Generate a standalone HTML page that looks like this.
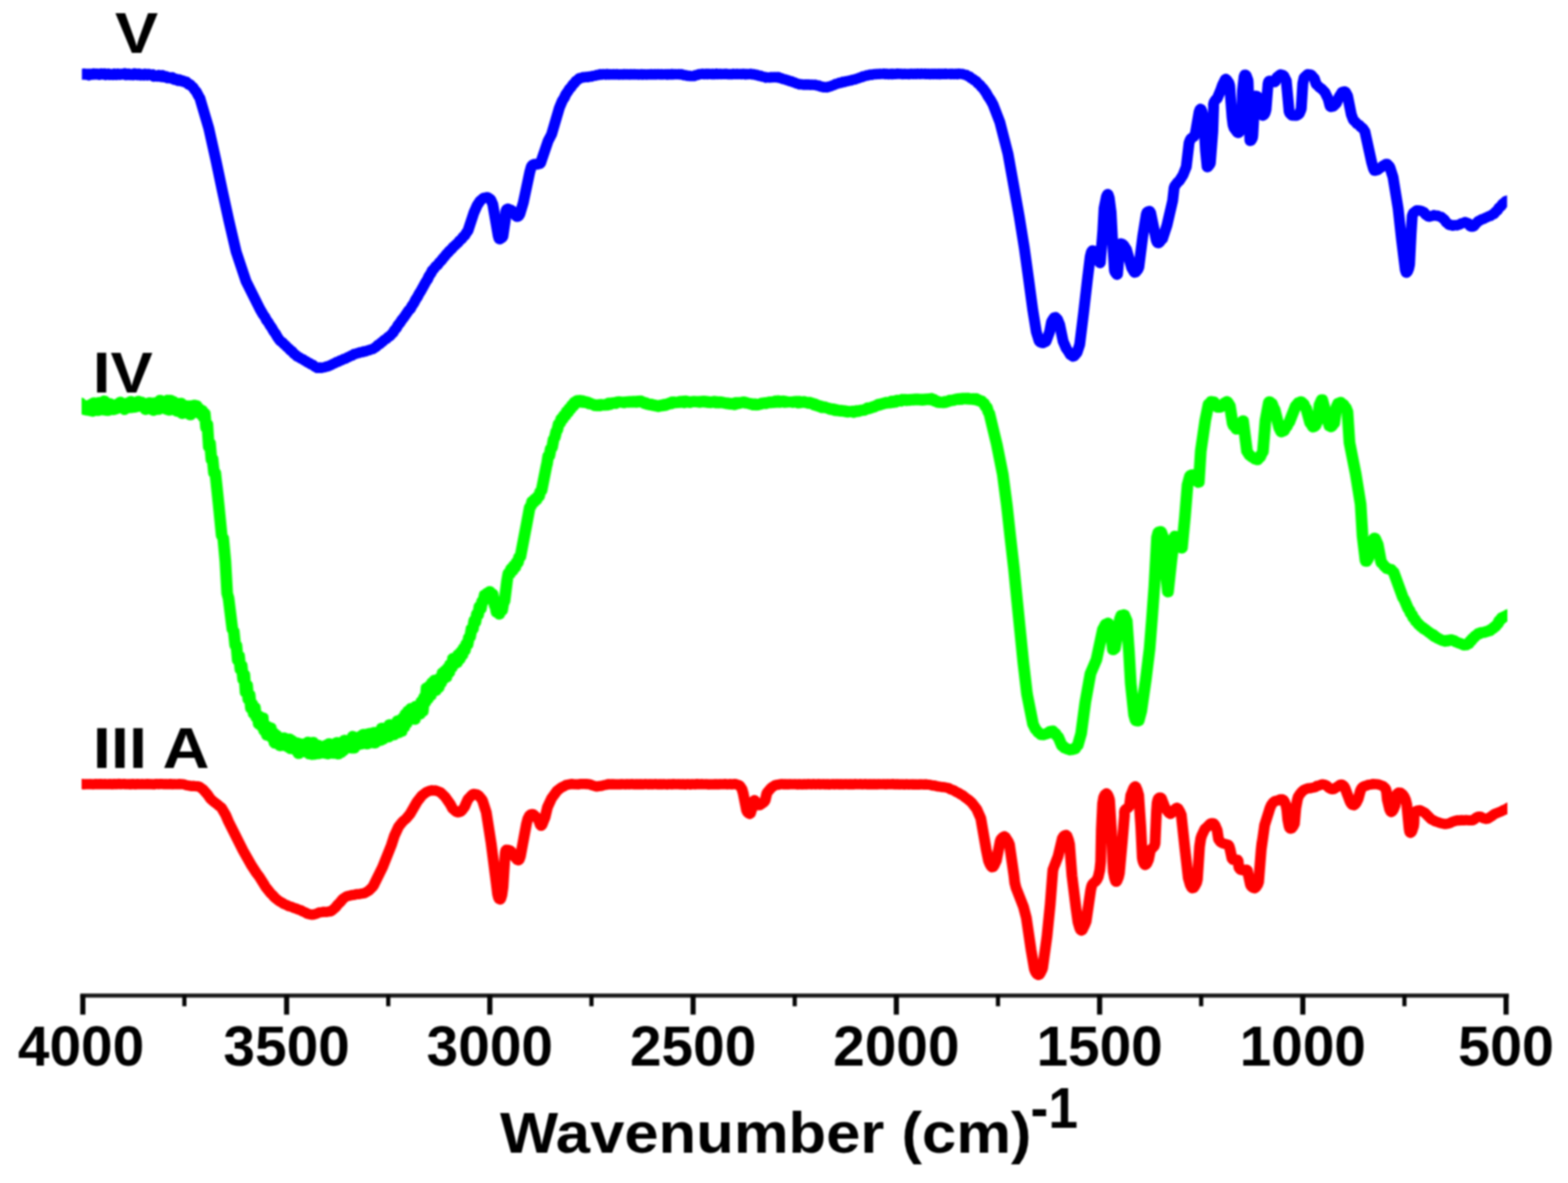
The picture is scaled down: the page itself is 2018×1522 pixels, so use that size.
<!DOCTYPE html>
<html lang="en">
<head>
<meta charset="utf-8">
<title>FTIR spectra</title>
<style>
html,body{margin:0;padding:0;background:#fff;}
body{width:2018px;height:1522px;overflow:hidden;}
svg{display:block;}
text{font-family:"Liberation Sans",sans-serif;font-weight:bold;fill:#000;}
.tk{font-size:71.8px;}
.lb{font-size:75px;}
.ax{font-size:74px;}
path{fill:none;stroke-linejoin:round;stroke-linecap:butt;}
</style>
</head>
<body>
<svg width="2018" height="1522" viewBox="0 0 2018 1522">
<defs>
<filter id="soft" color-interpolation-filters="sRGB" filterUnits="userSpaceOnUse" x="0" y="0" width="2018" height="1522"><feGaussianBlur stdDeviation="0.9"/></filter>
<filter id="soft2" color-interpolation-filters="sRGB" filterUnits="userSpaceOnUse" x="0" y="0" width="2018" height="1522"><feGaussianBlur stdDeviation="0.9"/></filter>
</defs>
<rect x="0" y="0" width="2018" height="1522" fill="#fff"/>
<g fill="#1a1a1a" filter="url(#soft2)">
<rect x="103.3" y="1278.2" width="1838.6" height="5.3"/>
<rect x="103.3" y="1280" width="6.6" height="25.4" fill="#050505"/>
<rect x="234.6" y="1280" width="5.4" height="14.6" fill="#050505"/>
<rect x="365.6" y="1280" width="6.6" height="25.4" fill="#050505"/>
<rect x="497.0" y="1280" width="5.4" height="14.6" fill="#050505"/>
<rect x="627.1" y="1280" width="6.6" height="25.4" fill="#050505"/>
<rect x="758.5" y="1280" width="5.4" height="14.6" fill="#050505"/>
<rect x="888.7" y="1280" width="6.6" height="25.4" fill="#050505"/>
<rect x="1020.1" y="1280" width="5.4" height="14.6" fill="#050505"/>
<rect x="1150.3" y="1280" width="6.6" height="25.4" fill="#050505"/>
<rect x="1281.7" y="1280" width="5.4" height="14.6" fill="#050505"/>
<rect x="1411.9" y="1280" width="6.6" height="25.4" fill="#050505"/>
<rect x="1543.2" y="1280" width="5.4" height="14.6" fill="#050505"/>
<rect x="1673.4" y="1280" width="6.6" height="25.4" fill="#050505"/>
<rect x="1804.8" y="1280" width="5.4" height="14.6" fill="#050505"/>
<rect x="1935.0" y="1280" width="6.6" height="25.4" fill="#050505"/>
</g>
<clipPath id="plot"><rect x="105.4" y="0" width="1834.2" height="1276"/></clipPath>
<g filter="url(#soft)"><g clip-path="url(#plot)">
<path transform="scale(1.06,1)" d="M88.4 95.3 L89 94.9 L90.5 96.0 L94.1 95.2 L95.6 96.9 L97.2 95.0 L98.9 96.2 L100.7 95.7 L102 94.6 L103.4 96.1 L106.3 95.0 L107.8 97.0 L109.4 95.0 L112.7 96.1 L114 94.6 L116.7 95.9 L118.1 94.9 L119.5 96.1 L121 96.4 L122.4 94.5 L123.9 95.9 L125.4 95.5 L126.9 94.7 L128.4 96.6 L129.8 95.5 L131.3 94.8 L132.7 96.5 L134.2 95.3 L135.6 95.3 L137.1 96.7 L138.6 94.7 L141.5 96.4 L143 94.7 L144.4 95.9 L145.8 96.3 L147.2 95.0 L148.6 95.7 L149.9 95.9 L151.5 94.1 L153.1 96.7 L156.2 94.9 L157.7 96.7 L159.2 95.4 L160.5 95.5 L161.8 96.9 L163.5 94.3 L166.6 96.5 L168.4 94.7 L169.5 96.3 L170.6 96.9 L171.8 95.4 L173.1 95.8 L174.5 97.1 L175.9 94.9 L177.4 95.7 L178.9 97.1 L180.4 95.2 L182 96.7 L183.5 96.5 L185.1 95.9 L186.7 98.6 L188.2 97.2 L189.7 97.5 L191.2 98.7 L192.6 96.4 L195.6 99.1 L197.1 96.6 L198.6 99.3 L200.1 99.2 L201.7 98.1 L203.2 100.6 L204.7 99.4 L206.2 99.4 L207.6 101.0 L209.1 99.4 L210.5 100.5 L211.9 102.7 L213.3 101.3 L214.6 102.1 L215.9 104.0 L217.4 102.2 L220.5 104.6 L221.9 103.5 L223.4 105.4 L224.7 106.0 L226.1 105.1 L228.6 108.4 L229.8 108.0 L231 108.9 L232.2 110.8 L234.4 112.3 L236.4 115.7 L238.2 117.7 L241.3 124.0 L242.6 126.0 L253.5 165.1 L262 205.3 L269.9 245.1 L278 284.4 L286.7 323.8 L298.6 361.6 L315.8 398.0 L319.8 405.3 L321.5 407.5 L323.8 412.3 L325.5 414.4 L328.1 419.1 L329.7 421.2 L332.3 426.3 L333.9 428.3 L337.1 434.1 L340 438.4 L341.2 439.4 L342.5 440.1 L344.9 443.0 L346.1 443.7 L348.5 446.6 L351 448.6 L352.2 450.3 L353.4 451.5 L354.6 452.0 L357 455.1 L359.3 456.8 L360.6 458.4 L362 459.2 L363.4 459.6 L364.9 461.1 L367.7 462.2 L369 463.4 L371.7 464.7 L373 466.0 L374.3 466.7 L375.7 467.0 L377 468.3 L378.3 469.1 L379.6 469.1 L382.4 471.9 L383.8 472.3 L385.4 473.4 L386.7 473.4 L388.2 472.7 L389.9 473.4 L391.6 472.8 L394.9 472.4 L396.4 471.5 L397.8 471.5 L399.4 470.8 L400.8 469.8 L402.2 469.6 L405 467.7 L406.3 467.4 L409.1 465.6 L410.6 465.4 L413.4 463.6 L414.8 463.5 L417.7 461.6 L419.1 461.6 L422 459.7 L423.3 459.4 L425.9 457.7 L427.4 457.6 L428.7 456.4 L430.1 455.4 L431.9 455.3 L434.2 454.1 L435.6 454.2 L437.1 453.3 L438.7 452.9 L440.3 453.0 L442 451.8 L443.7 452.1 L447 450.7 L448.6 450.6 L450 449.5 L452.6 449.2 L455.2 447.1 L456.4 446.5 L458.8 443.9 L461 442.7 L463.3 440.2 L464.4 439.7 L466.7 437.2 L469 436.1 L471.4 433.4 L472.8 432.8 L474.1 431.6 L475.3 430.0 L477.2 428.2 L479.2 424.4 L481.5 421.9 L483.2 418.4 L485.9 415.0 L487.7 411.9 L490.3 408.5 L496.2 399.4 L498.3 397.4 L500.1 393.7 L502.5 390.0 L504.7 385.4 L506.8 382.1 L509 377.5 L510.5 375.3 L517.4 362.0 L518.9 359.9 L520.9 355.1 L523.2 351.6 L524.9 347.9 L526.9 345.8 L529.2 342.5 L531.3 341.0 L533.5 337.6 L535.7 335.5 L537.9 332.2 L540.1 329.8 L542.2 326.8 L544.3 324.7 L545.3 323.2 L548.3 320.4 L550.4 317.6 L552.7 315.7 L553.9 314.2 L556.1 312.3 L558.2 309.3 L560.3 307.7 L562.3 304.7 L564.2 303.1 L566.8 298.7 L568.2 296.8 L575.3 273.9 L579.4 264.1 L583.3 257.9 L585.2 256.6 L586.3 255.4 L587.8 254.4 L589.6 254.4 L591.3 253.6 L592.8 254.3 L595 255.9 L595.9 257.0 L598.3 262.8 L604.9 303.4 L605.8 306.6 L606.3 307.5 L606.8 307.8 L609.4 306.0 L610.6 304.2 L613.6 282.3 L614 272.8 L614.7 270.2 L615.3 269.2 L616.6 268.4 L618.3 269.5 L620.1 269.8 L621.8 271.1 L624.8 274.7 L626.6 278.1 L627.5 278.8 L628.3 278.9 L629.8 277.9 L631.1 275.7 L635.3 261.0 L643.2 221.5 L645 214.7 L645.6 213.3 L647 211.8 L648.5 211.0 L650.3 210.8 L652.2 211.6 L654 211.0 L655.5 210.9 L656.3 209.9 L665.5 181.3 L669.8 172.6 L679.2 138.6 L682.8 129.5 L685 126.0 L687.2 121.0 L689.6 117.5 L691.4 114.4 L693.1 112.6 L695.7 108.6 L697.6 106.8 L699.6 103.9 L701.7 102.6 L702.9 101.1 L704.1 100.3 L705.3 100.5 L708 99.2 L709.4 99.5 L712.3 98.8 L713.8 99.4 L715.3 98.6 L716.7 98.3 L718.2 98.6 L719.8 97.6 L723 97.3 L724.6 96.5 L726.1 96.6 L727.6 95.9 L729 95.5 L730.3 96.0 L732 95.3 L733.5 95.5 L735 96.0 L736.9 95.2 L738 95.8 L739.3 96.0 L740.6 95.5 L743.5 95.9 L745 95.4 L746.6 95.9 L749.7 95.4 L751.4 96.0 L753 95.6 L755.9 96.0 L757.3 95.3 L760 95.9 L761.4 95.4 L764.3 96.0 L765.8 95.3 L767.2 95.8 L768.7 95.8 L770.1 95.4 L771.6 95.8 L774.5 95.6 L776 96.1 L778.9 95.5 L780.3 96.1 L781.8 95.7 L783.2 95.7 L784.7 96.0 L786.1 95.6 L789.1 95.8 L790.5 95.4 L792 95.9 L793.5 95.9 L794.9 95.3 L796.3 95.8 L797.7 95.8 L799.1 95.3 L800.5 95.8 L801.9 95.8 L803.2 95.5 L804.8 95.9 L808 95.5 L809.6 96.1 L811.2 95.4 L812.7 95.8 L814.3 95.8 L815.7 95.2 L817.1 95.8 L818.5 95.7 L819.7 95.3 L820.9 95.7 L822.8 95.7 L824.4 95.4 L825.9 95.9 L827.5 95.5 L829 96.0 L830.4 96.9 L831.9 96.6 L835 97.7 L836.5 97.3 L838.1 97.9 L842.9 97.8 L844.3 96.9 L847.2 96.4 L848.5 95.3 L851.5 95.4 L853.1 94.8 L854.8 95.6 L856.5 95.1 L857.9 95.0 L859.3 95.6 L860.8 95.0 L863.8 95.6 L865.3 94.9 L866.8 95.5 L868.2 95.5 L869.8 94.8 L871.3 95.6 L874.2 95.0 L875.6 95.5 L878.7 95.2 L880.4 95.4 L882 94.9 L883.6 95.5 L886.8 95.3 L888.5 95.7 L890.2 94.9 L891.6 95.3 L893.1 95.5 L894.6 95.0 L896.2 95.5 L899.2 95.1 L900.7 95.6 L902.3 95.0 L905.3 95.8 L906.8 95.1 L908.2 95.5 L909.9 95.4 L911.4 95.0 L913 95.8 L914.8 95.4 L916.1 95.8 L917.5 96.5 L918.9 96.2 L921.9 97.7 L923.5 97.5 L925.1 98.6 L928.3 98.9 L929.8 100.0 L931.3 99.5 L934.5 99.9 L936.1 99.2 L937.7 99.6 L940.8 99.1 L942.2 99.5 L943.5 99.1 L944.8 99.1 L946.5 100.4 L948.1 100.3 L951 101.9 L952.4 101.8 L955.1 103.1 L956.5 103.2 L959.2 104.6 L960.6 104.5 L963.3 105.9 L964.7 106.1 L967.6 107.7 L969.1 107.7 L970.9 108.7 L972.1 108.7 L973.3 108.3 L974.6 108.9 L976.1 109.1 L977.6 108.6 L979.1 109.1 L982.2 108.7 L983.8 109.3 L985.4 108.8 L988.3 109.4 L989.6 109.0 L992.7 110.2 L994.2 110.0 L995.6 111.2 L997 111.6 L998.4 111.4 L999.8 112.3 L1001.3 112.3 L1002.7 111.9 L1004.1 112.5 L1005.4 112.1 L1006.7 111.2 L1008 111.3 L1009.4 110.8 L1010.7 109.8 L1012.1 109.6 L1013.5 109.0 L1014.8 107.9 L1016.3 107.8 L1017.7 107.4 L1019.1 106.5 L1020.4 106.7 L1021.9 106.3 L1023.3 105.3 L1024.7 105.7 L1027.6 104.3 L1029.1 104.5 L1032 103.4 L1033.5 103.6 L1034.9 102.8 L1036.4 102.4 L1037.8 102.4 L1039.3 101.4 L1042.2 100.8 L1043.7 99.9 L1046.6 99.2 L1048 98.1 L1049.5 98.1 L1050.9 97.7 L1052.3 96.8 L1053.7 97.0 L1055.1 96.6 L1056.7 95.8 L1058.3 96.3 L1059.9 95.6 L1061.5 95.5 L1063 95.7 L1064.6 95.1 L1067.5 95.3 L1068.8 94.9 L1070 95.2 L1071.8 95.1 L1073.3 94.7 L1074.8 95.5 L1076.7 94.9 L1077.8 95.0 L1079.1 95.6 L1081.8 94.9 L1083.3 95.6 L1084.8 95.0 L1087.9 95.4 L1089.5 94.6 L1091.1 95.2 L1094.4 95.0 L1095.7 95.5 L1098.4 94.9 L1099.8 95.4 L1102.7 95.1 L1104.1 95.5 L1105.5 95.0 L1107 95.0 L1108.5 95.4 L1109.9 94.8 L1112.9 95.4 L1114.3 94.7 L1115.8 95.2 L1117.2 95.3 L1118.7 94.6 L1120.1 95.2 L1121.6 95.2 L1123 94.7 L1124.5 95.4 L1127.4 94.8 L1128.9 95.5 L1130.3 95.1 L1131.8 95.0 L1133.2 95.5 L1134.7 94.9 L1136.1 95.1 L1137.5 95.6 L1138.9 94.9 L1140.3 95.0 L1141.6 95.6 L1143 94.9 L1146.2 95.4 L1147.8 94.7 L1149.4 95.3 L1152.5 95.0 L1154.1 95.5 L1155.5 94.8 L1156.9 95.0 L1158.3 95.5 L1159.5 95.1 L1160.7 95.0 L1162.6 95.5 L1164.2 94.7 L1167.3 95.2 L1168.7 95.2 L1170.2 96.0 L1173.2 96.4 L1174.8 97.8 L1176.9 98.4 L1179.2 100.6 L1180.4 101.0 L1181.6 101.9 L1182.8 103.3 L1185.2 104.4 L1187.5 107.5 L1188.7 108.1 L1189.7 109.2 L1191.6 111.9 L1193.3 113.4 L1197.5 119.7 L1199.9 124.4 L1202.1 127.7 L1205.8 134.7 L1214 157.3 L1223.8 197.7 L1230.7 238.2 L1237.5 278.5 L1243.6 318.5 L1248.8 358.3 L1253.9 398.5 L1258.3 427.2 L1261.3 437.5 L1262 439.3 L1262.8 440.2 L1265 441.2 L1266.5 441.4 L1267.9 440.4 L1269.3 440.0 L1270 439.4 L1274.4 426.9 L1276.7 414.1 L1277.7 412.1 L1280.1 408.4 L1281.4 408.0 L1283.9 410.8 L1286.5 417.4 L1290.8 439.1 L1294.7 448.6 L1297.4 452.6 L1299.7 456.5 L1302.9 458.7 L1303.9 458.4 L1306.8 455.0 L1307.7 453.6 L1310.9 443.3 L1315.7 402.0 L1320.1 361.2 L1323.7 330.0 L1325 324.7 L1325.6 323.3 L1326.3 322.3 L1330.6 323.3 L1331.9 324.9 L1333.2 327.6 L1335.6 338.5 L1335.9 337.9 L1339 297.0 L1340.5 268.1 L1343.4 252.8 L1344.6 250.0 L1345 249.8 L1345.3 250.0 L1346.7 254.4 L1349 273.1 L1351 313.8 L1353.1 347.5 L1353.4 349.0 L1354.2 350.8 L1356.2 353.5 L1356.8 352.9 L1359.8 315.3 L1360.4 313.4 L1360.9 313.1 L1362.9 313.9 L1364.2 315.3 L1367.6 320.8 L1374.1 344.8 L1377 350.0 L1377.7 350.7 L1378.7 350.4 L1381.6 346.6 L1382.7 343.8 L1387.5 303.8 L1391.8 275.6 L1392.7 273.0 L1394.1 272.0 L1395.5 271.5 L1396 271.8 L1397.1 273.9 L1403.9 309.1 L1405 311.9 L1405.8 312.7 L1406.7 312.8 L1407.9 311.7 L1409.1 309.9 L1411.4 307.5 L1416.8 290.0 L1423.8 258.1 L1425.5 242.0 L1426.3 239.4 L1429.9 234.3 L1431.9 232.7 L1436.5 224.8 L1440.3 214.6 L1443.7 183.9 L1444.9 180.3 L1445.9 178.4 L1447.1 177.2 L1448.3 176.9 L1449.5 175.7 L1451.4 171.6 L1455.9 143.8 L1457.1 140.6 L1457.6 140.1 L1458.1 140.3 L1459.2 142.7 L1461.3 152.4 L1463.7 194.0 L1465.6 214.4 L1466 215.1 L1466.7 214.5 L1468.6 211.8 L1469.5 210.1 L1472.5 169.2 L1473.5 137.9 L1473.4 134.4 L1474.2 131.2 L1475.9 128.4 L1477.8 126.8 L1481.9 116.5 L1484.2 109.6 L1487.7 102.0 L1488.4 101.6 L1489.3 102.4 L1492 106.6 L1493 110.1 L1495.9 150.9 L1497.1 160.8 L1498.2 164.4 L1499.1 166.0 L1502.1 170.2 L1503.1 171.0 L1503.8 171.0 L1505 169.5 L1506.8 163.0 L1507.5 157.6 L1508.6 116.2 L1510.5 98.6 L1511.2 96.6 L1511.5 96.1 L1512.2 96.2 L1513 97.0 L1515.1 102.9 L1515.4 106.2 L1516.6 147.5 L1517.6 180.4 L1517.9 181.3 L1518.7 181.0 L1519.8 179.2 L1520.7 177.0 L1521.1 173.6 L1523.3 131.7 L1524.1 125.0 L1524.9 123.3 L1526.2 123.5 L1529.1 126.5 L1529.9 128.6 L1532.6 147.9 L1532.9 148.5 L1533.3 148.7 L1534.2 148.2 L1535.2 147.0 L1536.1 145.1 L1537.1 141.2 L1539.6 107.9 L1540.3 105.1 L1541 104.1 L1542.3 103.9 L1544 105.3 L1547.3 105.7 L1548.3 105.0 L1550.6 99.1 L1554.8 95.7 L1557.5 96.6 L1558.6 97.3 L1561.7 103.8 L1565.2 143.4 L1565.9 145.6 L1568.4 148.5 L1573.9 148.8 L1576.5 147.4 L1577.5 146.3 L1579.6 141.0 L1579.9 139.5 L1581.8 107.3 L1583.2 100.5 L1583.8 99.3 L1587.9 95.5 L1590.8 95.9 L1592.3 96.6 L1593.8 98.7 L1595.7 100.8 L1597.7 107.3 L1598.5 108.8 L1600.5 110.7 L1601.7 112.2 L1602.9 113.2 L1604.2 113.9 L1608.5 118.5 L1612.7 127.5 L1614.7 135.8 L1615.3 137.1 L1616 137.6 L1618.7 137.0 L1622.5 132.9 L1625.9 124.6 L1629.3 118.7 L1630.4 118.0 L1632.6 117.7 L1633.7 118.5 L1636.1 123.2 L1640.7 147.6 L1642.7 153.1 L1643.5 154.9 L1644.5 155.9 L1645.6 156.6 L1647.9 159.7 L1650.1 160.6 L1652.3 163.8 L1653.6 164.2 L1654.7 165.2 L1657.2 169.3 L1665.5 209.3 L1667.6 217.1 L1668.7 219.5 L1669.4 219.7 L1673 218.6 L1674.4 216.9 L1675.7 216.0 L1677 215.6 L1678.5 213.8 L1679.9 212.7 L1681.4 212.0 L1682.7 210.8 L1684 210.9 L1686.7 213.8 L1687.5 215.2 L1691.3 227.7 L1697.5 268.0 L1701.8 309.3 L1706.2 347.0 L1707.3 350.6 L1707.7 350.9 L1708.9 349.4 L1710.2 346.1 L1711.4 340.4 L1713.3 300.2 L1714.6 278.4 L1715.4 275.6 L1716.3 273.7 L1720.3 270.6 L1723.7 270.8 L1725.5 271.3 L1727.2 272.3 L1728.4 272.6 L1729.6 273.9 L1730.7 275.7 L1731.8 276.8 L1733 277.4 L1734.2 278.5 L1735.5 278.8 L1736.9 278.1 L1739.7 277.6 L1741.2 276.7 L1743.9 277.6 L1745.4 277.3 L1746.8 278.3 L1748.2 278.8 L1749.6 278.8 L1752.1 281.4 L1753.1 282.0 L1754.1 283.1 L1756.1 286.4 L1758.2 287.9 L1759.3 289.2 L1760.8 289.7 L1762.4 289.5 L1764 290.4 L1765.7 289.7 L1769.1 290.0 L1770.5 289.1 L1771.9 289.0 L1774.8 287.1 L1776.3 287.1 L1779 285.7 L1782.7 287.4 L1785 291.0 L1786.1 291.5 L1788.3 291.6 L1789.5 290.9 L1791.7 287.8 L1792.9 286.8 L1795.4 284.1 L1796.8 283.7 L1799.6 281.9 L1801.1 281.8 L1803.9 279.9 L1805.3 279.6 L1808.2 277.9 L1809.6 277.9 L1812.4 275.6 L1813.7 275.4 L1816 272.4 L1818.1 270.6 L1820.1 267.2 L1822.1 265.6 L1824.5 262.2 L1826.7 260.6 L1827.6 259.3 L1828.7 258.4 L1829.7 258.6 L1831.2 258.2 L1833.1 257.2 L1834.7 257.2 L1835.4 256.8" stroke="#0000ff" stroke-width="13.3"/>
<path transform="scale(1.1,1)" d="M90.7 520.1 L90.9 518.4 L91.4 518.4 L92.3 525.3 L93.2 525.9 L94.2 518.4 L95.3 523.8 L96.2 525.3 L96.9 521.3 L97.7 521.1 L98.4 526.2 L99.2 527.4 L100 522.5 L100.8 522.2 L101.7 527.9 L102.5 526.5 L103.2 521.6 L103.9 521.6 L104.6 526.6 L105.3 528.6 L106 523.3 L106.8 519.9 L107.5 525.6 L108.3 529.3 L109.1 522.4 L109.9 518.0 L110.7 523.9 L111.5 526.4 L112.4 520.7 L113 519.2 L114.4 528.5 L115.9 517.6 L117.4 526.5 L118.9 519.5 L120.5 527.6 L122 515.7 L123.6 528.1 L125.1 520.1 L126.5 528.3 L127.2 525.0 L127.9 519.2 L128.6 519.0 L129.4 526.5 L130.3 526.7 L131.1 520.9 L131.9 522.2 L132.7 527.3 L133.4 525.8 L134.2 521.2 L134.9 522.2 L135.6 526.4 L136.4 526.1 L137.1 521.4 L137.8 519.4 L138.4 522.9 L139.3 524.7 L140.1 518.8 L140.9 517.1 L141.7 522.4 L142.5 523.9 L143.2 519.6 L144 519.2 L144.8 525.6 L145.6 527.1 L146.4 521.6 L147.1 519.7 L147.9 523.5 L148.6 524.0 L149.4 518.2 L150.3 517.8 L151.2 524.8 L151.8 524.6 L153.1 516.3 L154.5 524.6 L155.9 518.4 L156.6 520.2 L157.4 524.2 L158.1 522.6 L158.9 517.7 L159.7 518.6 L160.4 523.4 L161.2 521.7 L162 516.0 L162.8 518.0 L163.5 522.7 L164.2 522.5 L164.9 518.0 L165.6 517.0 L166.4 521.6 L167.1 523.7 L167.9 520.2 L168.7 519.4 L169.5 525.0 L170.3 527.1 L171 521.6 L171.8 519.5 L172.6 523.3 L173.4 523.4 L174.2 518.1 L175 517.8 L175.8 523.5 L176.5 524.8 L177.3 520.9 L178 520.7 L178.8 526.0 L179.5 528.3 L180.8 518.0 L182.4 524.2 L183.2 520.2 L184 517.6 L185.6 526.9 L187.1 514.9 L188.5 524.7 L189.9 517.7 L190.6 519.1 L191.2 522.4 L191.9 523.2 L192.5 519.7 L193.4 517.5 L194.2 523.8 L194.9 526.9 L196.3 514.7 L197.9 528.0 L199.4 514.7 L200.6 526.4 L201.3 526.1 L201.9 519.9 L202.6 516.2 L204 527.7 L205.5 518.5 L207 529.3 L208.6 518.9 L210.2 527.2 L211.7 518.6 L213.3 532.3 L214.8 521.5 L216.2 530.3 L216.9 527.7 L217.7 521.8 L218.5 524.5 L219.3 530.5 L220.1 527.3 L220.9 522.1 L222.6 534.0 L224.2 521.9 L225 527.6 L225.8 531.5 L227.3 521.0 L228.7 529.4 L230.1 521.7 L230.7 523.4 L232 530.8 L233.2 525.7 L233.8 527.4 L234.9 533.3 L236.4 527.9 L237.7 536.0 L238.1 537.3 L239.4 531.5 L239.6 531.8 L241.1 550.5 L242.6 545.7 L244.3 575.4 L245.7 569.8 L247.4 591.7 L248.7 590.1 L250.4 608.9 L251.5 607.6 L251.9 608.2 L255.8 649.1 L259.4 689.1 L261.2 692.5 L263.7 722.4 L265.8 763.4 L267.4 769.7 L271.9 809.7 L273.5 812.1 L275.2 830.4 L276.6 830.1 L278.2 849.7 L279.7 843.6 L281.3 861.6 L282.8 856.2 L284.5 874.5 L285.9 867.9 L287.4 891.2 L288.9 881.3 L289.1 881.4 L290.5 900.1 L292.1 893.8 L293.6 911.5 L295.1 905.3 L296.8 918.4 L298.2 910.1 L299.6 922.1 L300 923.4 L301.1 919.5 L301.5 919.6 L302.7 931.6 L303.1 931.9 L304.4 922.1 L305.8 934.2 L306.2 934.8 L307.6 923.3 L309 940.2 L309.5 938.9 L310.4 932.4 L310.9 933.9 L311.9 944.5 L312.4 946.1 L313.3 937.7 L313.8 935.1 L315.3 945.3 L316.8 936.2 L318.4 949.9 L320 942.6 L321 953.7 L321.6 956.4 L322.7 945.3 L323.3 945.3 L324.5 954.8 L325.7 948.6 L326.3 948.6 L327.6 959.7 L328.9 950.2 L329.6 951.2 L330.2 956.5 L330.9 958.9 L332.3 949.1 L333.7 959.7 L334.4 957.9 L335.1 954.0 L335.8 955.4 L336.5 960.7 L337.2 961.6 L337.9 954.8 L338.6 950.5 L340 963.3 L341.4 952.5 L342.1 956.3 L342.8 962.5 L343.5 961.9 L344.2 956.6 L344.9 956.0 L345.6 962.2 L346.4 965.6 L347.8 955.5 L349.3 969.7 L350.7 956.6 L351.4 959.9 L352.2 964.9 L352.9 963.2 L353.6 959.2 L354.4 960.3 L355.1 964.3 L355.8 963.1 L356.6 957.0 L357.3 956.4 L358 964.4 L358.7 968.1 L359.5 959.7 L360.2 954.6 L361.7 970.2 L363.2 959.7 L364.7 970.9 L366.2 954.9 L367.7 970.7 L369.2 957.7 L370 961.8 L370.7 968.0 L371.5 964.6 L372.2 958.6 L373 962.4 L373.8 969.8 L374.5 967.8 L375.3 960.9 L376 961.9 L376.8 967.9 L377.5 966.9 L378.3 960.2 L379 960.8 L379.8 968.9 L380.5 969.4 L381.3 960.2 L382 958.3 L382.8 967.4 L383.5 970.1 L384.3 960.9 L385 956.5 L385.8 963.7 L386.5 967.8 L387.3 962.5 L388.1 959.4 L389.6 969.4 L391.1 958.2 L392.5 969.4 L394 955.1 L395.5 970.3 L396.2 965.9 L396.9 957.9 L397.6 958.5 L398.3 965.7 L399 968.4 L400.4 957.1 L401.7 965.7 L403.1 952.0 L403.8 953.4 L404.5 959.7 L405.2 961.4 L406.6 952.5 L407.9 961.3 L409.3 953.9 L410 956.7 L410.7 962.7 L411.4 961.7 L412.1 952.5 L412.8 947.2 L414.2 962.7 L415.7 950.6 L417.1 958.7 L417.8 955.6 L418.6 950.3 L419.3 952.1 L420 958.1 L420.7 957.4 L421.4 949.5 L422.2 946.6 L422.9 953.3 L423.6 957.3 L425 944.6 L426.5 955.1 L427.9 944.5 L428.7 949.3 L429.4 957.3 L430.1 954.5 L430.8 945.4 L431.5 943.6 L432.3 949.5 L433 951.4 L433.7 945.7 L434.4 943.0 L435.9 955.9 L437.4 942.2 L438.8 956.1 L440.3 941.8 L441 945.0 L441.7 952.0 L442.4 950.2 L443.2 943.0 L443.9 942.8 L444.6 950.5 L445.3 952.8 L446.7 936.5 L448.1 951.2 L449.5 940.3 L450.2 942.2 L450.9 947.2 L451.6 946.8 L452.3 941.7 L453 939.8 L454.4 948.5 L455.8 932.1 L457.2 942.7 L457.9 941.7 L458.5 936.0 L459.2 934.1 L460.6 945.7 L461.9 933.3 L462.5 935.2 L463.2 941.1 L463.8 943.4 L465.1 927.1 L465.6 930.4 L466.7 943.0 L468.3 926.2 L469.9 941.1 L471.4 923.2 L472.9 935.8 L474.3 918.4 L474.8 920.8 L475.8 930.9 L476.3 928.1 L477.4 914.5 L477.9 914.9 L478.9 924.2 L479.5 922.0 L480.7 911.4 L482 922.9 L482.7 919.6 L483.3 912.7 L484 911.8 L485.4 925.7 L486.7 908.3 L487.4 911.3 L488.1 916.2 L488.7 915.6 L490 907.4 L491.2 919.1 L491.8 916.8 L492.9 902.4 L493.4 905.4 L494.3 915.0 L494.7 915.5 L496 897.7 L496.2 896.9 L497.6 903.6 L499.1 884.8 L499.4 885.6 L500.7 899.4 L502 884.2 L502.4 882.2 L503.4 893.1 L504 894.9 L505.1 879.3 L505.6 877.7 L506.8 887.8 L508 877.6 L508.6 874.9 L509.8 888.7 L510.4 886.5 L511.6 875.8 L512.8 885.2 L513.4 884.5 L514.5 871.9 L515 872.4 L516 878.8 L516.4 877.7 L517.8 865.3 L519.1 873.7 L519.5 873.3 L520.7 862.5 L521.1 863.7 L522.3 871.3 L524 859.0 L525.2 865.2 L525.6 865.4 L526.8 854.3 L527.3 854.0 L528.6 859.3 L530.1 846.8 L531.6 854.6 L533.1 848.2 L534.6 852.8 L536.1 842.0 L536.6 843.1 L537.6 848.6 L538.1 847.7 L539.5 838.2 L540.7 843.5 L541.1 842.6 L542.2 834.7 L542.6 833.5 L543.9 837.0 L545.5 828.1 L547 829.5 L548.6 820.1 L550 819.6 L551.7 808.7 L553.1 809.6 L553.3 809.3 L554.9 798.1 L556.2 800.7 L558 789.5 L559.4 791.4 L560.9 780.4 L561.2 779.8 L562.6 783.5 L564.2 773.4 L565.5 773.4 L567.1 765.3 L567.4 765.3 L568.7 768.4 L570 762.8 L570.8 763.0 L571.6 764.7 L572.4 763.3 L573.1 760.8 L573.8 762.4 L575 767.3 L576.3 763.9 L578.8 779.1 L579.6 779.7 L581 787.8 L581.5 787.3 L582.6 784.1 L584.1 790.4 L585.6 784.2 L586 784.0 L587 785.9 L587.4 785.6 L588.8 776.7 L590.3 773.3 L593.3 746.8 L594.8 737.7 L595.2 736.8 L596.4 739.0 L597.8 732.3 L598.3 731.3 L599.3 734.1 L599.8 734.5 L601.2 727.5 L602.8 730.4 L604 724.3 L604.4 723.1 L605.6 724.5 L606 723.7 L607.4 716.3 L608.8 716.7 L615.8 676.4 L619.9 652.2 L621.3 651.4 L622.6 645.2 L623 644.5 L624 646.4 L624.6 646.3 L625.6 642.1 L626.1 641.5 L627.2 643.7 L627.7 643.3 L629.1 638.4 L630.3 639.2 L630.6 638.9 L632.1 632.4 L633.6 631.2 L639.5 598.6 L639.9 597.5 L641.4 586.6 L642.8 586.3 L644.4 576.9 L645.9 576.0 L647.7 565.1 L649.1 562.9 L650.8 555.0 L652 553.3 L653.6 545.4 L653.9 544.8 L655.1 544.8 L655.4 544.3 L656.7 538.8 L657 538.3 L658.3 539.5 L659.7 534.6 L660.1 533.9 L661.1 535.0 L661.6 534.9 L663.1 529.2 L664.6 530.9 L666 525.4 L667.5 526.7 L668.9 521.8 L669.4 520.9 L670.3 522.4 L670.8 522.8 L672.3 517.1 L673.9 519.1 L675 515.3 L675.7 515.1 L676.4 516.9 L677.2 517.5 L677.9 515.6 L678.6 514.8 L679.4 516.8 L680.2 517.8 L681 516.0 L681.8 515.3 L682.6 517.4 L683.4 518.1 L684.2 516.4 L685 516.4 L685.8 518.0 L686.5 518.3 L687.2 517.4 L687.9 517.1 L689.2 519.9 L690.6 518.4 L691.3 519.0 L692 520.2 L692.7 520.4 L693.5 519.9 L694.2 520.0 L694.9 521.4 L695.7 522.1 L697.2 520.5 L697.9 521.6 L698.7 522.3 L699.5 521.1 L700.3 520.4 L701.6 522.3 L703 520.2 L703.8 520.7 L704.5 521.7 L705.3 521.5 L706 520.7 L706.8 520.9 L707.6 521.6 L708.4 520.9 L709.2 519.8 L710 520.4 L710.8 521.5 L712.4 518.4 L713.9 520.6 L715.5 518.1 L716.9 519.5 L717.6 518.9 L718.3 517.9 L719 517.8 L720.2 519.3 L721.4 517.3 L721.9 516.9 L722.9 517.9 L723.7 517.8 L724.5 516.6 L725.3 516.8 L726 517.7 L726.7 517.8 L727.5 517.0 L728.2 517.1 L729 518.2 L729.8 518.4 L730.6 517.2 L731.4 517.0 L732.2 517.7 L733 517.5 L733.8 516.7 L734.6 516.9 L735.4 517.7 L736.2 517.3 L737 516.3 L737.8 516.8 L738.6 517.7 L740.2 516.2 L741.8 517.7 L743.3 516.1 L744.8 517.8 L746.3 515.8 L748 517.5 L749.5 515.5 L750.7 517.1 L751.3 517.6 L752.7 517.0 L754.1 519.5 L755.6 517.8 L757.1 520.4 L757.9 520.0 L758.7 519.3 L760.2 521.2 L760.9 520.7 L761.7 519.7 L762.4 520.3 L763.1 521.6 L763.8 521.8 L765.1 520.5 L766 522.0 L766.8 522.7 L767.6 521.7 L768.3 521.4 L769.1 522.8 L769.9 523.3 L770.6 522.0 L771.4 521.3 L772.9 522.8 L774.4 520.8 L775.9 522.3 L777.3 520.0 L778.8 521.9 L780.2 519.6 L781 519.8 L781.7 520.6 L782.5 519.9 L783.2 518.4 L783.9 518.3 L784.6 519.5 L785.3 519.7 L786.7 516.8 L788 518.5 L788.6 518.2 L789.4 516.9 L790.3 517.2 L791.1 518.3 L791.8 517.9 L792.6 517.1 L793.3 517.3 L794.1 517.9 L794.9 517.3 L795.7 516.1 L796.5 516.6 L797.3 517.8 L798.1 517.1 L798.9 515.9 L800.5 518.4 L802.1 515.7 L803.7 517.7 L805.3 516.3 L806.9 518.2 L808.5 516.5 L809.2 517.1 L810 517.3 L810.8 516.4 L811.6 516.2 L812.4 517.0 L813.2 517.2 L814 516.4 L814.8 516.4 L815.6 517.4 L816.4 517.5 L817.2 516.5 L818 516.7 L818.7 517.8 L819.5 517.6 L820.3 516.2 L821.1 516.2 L821.9 517.2 L822.7 516.8 L823.5 515.8 L824.3 516.4 L825.1 517.6 L825.9 517.1 L826.7 516.2 L828.3 518.2 L829.9 516.5 L831.5 518.3 L833.1 516.8 L834.7 517.9 L835.5 516.8 L836.3 516.2 L837.1 517.8 L837.8 518.6 L839.3 516.6 L840.9 518.6 L841.7 517.1 L842.6 516.7 L843.9 518.4 L845.3 517.0 L846.8 518.8 L848.3 518.0 L849.9 519.5 L851.5 518.4 L853.2 519.9 L854.8 518.9 L856.3 520.4 L857.8 518.5 L859.3 520.9 L860.8 517.7 L862.3 520.0 L863.7 517.7 L864.5 518.2 L865.2 519.2 L865.9 518.9 L866.7 517.7 L867.4 517.4 L868.1 518.0 L868.9 517.9 L869.6 516.8 L870.4 516.8 L871.1 518.1 L871.9 518.8 L872.6 518.0 L873.4 517.7 L874.2 518.7 L875 519.3 L875.7 518.6 L876.5 518.5 L877.3 519.6 L878 520.2 L878.8 519.5 L879.5 519.1 L881 521.2 L882.3 519.4 L883.5 521.2 L884.4 521.3 L885.3 519.8 L886.1 520.1 L886.8 521.0 L887.6 520.6 L888.3 519.5 L889.1 519.5 L889.8 520.5 L890.6 520.0 L891.4 518.4 L892.2 518.4 L893 519.5 L893.8 519.1 L894.6 517.9 L895.4 518.4 L896.2 519.6 L896.9 518.9 L897.7 517.5 L898.5 517.8 L899.3 518.6 L900.9 516.9 L902.5 518.3 L904 516.7 L905.6 518.2 L907.2 515.6 L908.8 517.8 L910.3 515.4 L911.8 518.0 L913.4 515.8 L914.2 516.7 L915.1 517.2 L916.4 515.6 L917.8 518.0 L918.5 517.4 L919.2 516.1 L920 516.3 L920.7 517.6 L921.5 517.7 L922.3 516.9 L923 516.8 L923.8 517.5 L924.6 517.5 L925.3 516.8 L926.1 516.9 L926.8 517.8 L927.5 518.0 L928.3 516.9 L929 516.3 L929.8 517.3 L930.5 517.7 L931.3 516.6 L932.1 516.1 L933.6 518.7 L935.1 516.0 L936.5 518.4 L937.8 516.9 L938.4 517.0 L939.3 517.9 L940.1 517.6 L940.8 516.5 L941.6 516.7 L942.3 517.9 L943 518.3 L943.9 517.2 L944.8 517.6 L945.9 519.2 L947.2 517.4 L947.8 517.9 L948.5 519.0 L949.1 519.5 L950.6 518.5 L952 521.1 L953.5 519.4 L955.1 522.2 L956.6 520.9 L958.2 523.4 L959.7 521.8 L961.3 524.6 L962.8 522.8 L964.2 524.7 L965.6 523.6 L966.4 524.1 L967.1 525.3 L967.8 525.4 L968.6 524.6 L969.3 524.8 L970.1 526.3 L970.8 526.8 L971.6 525.9 L972.3 525.7 L973.1 526.9 L973.9 527.4 L974.6 526.3 L975.4 525.8 L976.8 528.3 L978.3 526.5 L979.7 528.7 L981.1 527.4 L981.8 527.8 L982.5 528.8 L983.2 529.1 L984.4 527.7 L986.1 529.5 L987.6 528.0 L989.1 530.0 L990.5 528.5 L991.9 530.3 L992.6 530.1 L993.3 529.2 L994.1 529.1 L994.8 529.8 L995.5 530.0 L996.3 529.1 L997.1 528.8 L998.5 530.8 L999.9 528.6 L1001.3 530.2 L1002.8 528.0 L1003.5 528.5 L1004.3 529.7 L1005 529.2 L1005.8 527.7 L1006.5 527.6 L1007.3 528.5 L1008 528.4 L1008.8 527.4 L1009.5 527.3 L1010.3 528.2 L1011 528.2 L1011.8 526.9 L1012.5 526.2 L1013.3 526.7 L1014 526.8 L1015.4 524.5 L1016.8 526.1 L1018.3 524.1 L1019.8 524.9 L1021.3 523.0 L1022.1 523.2 L1022.8 523.9 L1023.6 523.3 L1024.3 521.9 L1025 521.6 L1025.7 522.2 L1026.4 522.2 L1027.8 519.9 L1029 521.4 L1029.6 521.2 L1030.8 519.3 L1032.2 520.4 L1033.9 518.4 L1035.3 519.4 L1036.8 517.6 L1037.6 518.0 L1038.4 518.9 L1039.1 518.4 L1039.9 517.5 L1041.5 518.7 L1043.1 515.9 L1044.7 518.2 L1046.3 515.7 L1047.9 517.7 L1049.5 514.7 L1051 516.3 L1051.8 515.4 L1052.6 514.8 L1053.4 515.8 L1054.2 516.3 L1055 514.6 L1055.7 513.6 L1056.5 514.6 L1057.3 515.1 L1058.1 514.0 L1058.8 513.6 L1059.6 515.0 L1060.4 515.6 L1061.2 514.3 L1062 513.8 L1062.9 515.2 L1063.6 515.3 L1064.3 514.2 L1065 513.6 L1066.5 515.0 L1068.1 513.7 L1068.9 514.4 L1069.6 514.7 L1070.4 513.7 L1071.2 513.2 L1072 514.2 L1072.7 514.6 L1073.5 513.7 L1074.3 513.2 L1075.1 514.3 L1075.8 514.8 L1076.6 513.8 L1077.4 513.4 L1078.2 514.7 L1079 515.2 L1079.7 513.9 L1080.5 513.3 L1081.9 514.8 L1083.4 513.0 L1085 514.4 L1086.5 512.8 L1088.1 514.6 L1089.6 512.4 L1090.8 514.4 L1091.4 514.5 L1092.1 513.8 L1092.8 513.6 L1094.2 516.7 L1095.6 515.6 L1097 517.7 L1097.8 517.4 L1098.5 516.6 L1099.3 517.0 L1100 518.2 L1100.8 518.2 L1101.6 517.4 L1102.2 517.4 L1103.6 518.5 L1104.9 516.4 L1106.3 518.2 L1107.1 517.5 L1107.8 516.1 L1108.5 516.0 L1109.2 517.0 L1109.9 516.9 L1110.7 515.4 L1111.4 514.7 L1112.9 515.9 L1114.4 514.3 L1115.9 515.4 L1117.4 513.4 L1118.9 514.4 L1120.3 512.9 L1121.8 514.3 L1122.5 513.7 L1123.3 512.5 L1124.1 513.0 L1124.9 514.1 L1125.6 513.5 L1126.4 512.1 L1127.2 512.4 L1128 513.5 L1128.8 513.1 L1129.5 512.2 L1130.3 512.7 L1131.1 513.6 L1131.9 513.1 L1132.6 512.1 L1133.4 512.7 L1134.1 513.8 L1134.8 513.7 L1135.5 513.0 L1136.2 512.9 L1137.6 514.2 L1138.8 512.6 L1139.4 513.1 L1140.3 514.5 L1141.2 514.0 L1142 512.7 L1143.6 515.3 L1145 514.1 L1146.4 516.5 L1147.1 516.6 L1147.8 515.9 L1148.4 515.7 L1149.5 517.9 L1150 518.5 L1151 518.4 L1151.5 518.8 L1152.8 522.9 L1154.5 523.6 L1156.2 529.8 L1157.5 531.9 L1166.1 571.1 L1173.3 610.6 L1178.1 650.9 L1182.1 691.0 L1186.3 731.4 L1189.9 771.8 L1193.6 812.2 L1197.3 852.5 L1201.6 893.1 L1208.7 931.9 L1211.8 938.6 L1213.3 940.1 L1214.9 942.8 L1216 943.2 L1217.7 945.3 L1218.4 945.1 L1219.2 944.6 L1220.9 945.6 L1222.5 944.1 L1224.1 944.5 L1225.6 942.8 L1227.1 943.2 L1228.5 940.8 L1229.2 940.7 L1229.9 941.0 L1231.8 940.3 L1233.4 942.6 L1234.5 943.0 L1235 943.7 L1236.6 947.0 L1237.9 947.6 L1242.5 959.6 L1244.1 959.8 L1245.4 962.4 L1246.1 962.6 L1246.9 962.3 L1247.6 962.7 L1248.3 963.7 L1249.1 964.0 L1249.8 963.7 L1250.6 963.8 L1251.9 964.9 L1253.5 964.0 L1255 964.5 L1256.5 962.8 L1257.9 963.6 L1259.5 960.3 L1260.9 959.2 L1264.9 943.8 L1269.8 903.5 L1275.8 866.8 L1282.8 848.7 L1290.5 809.3 L1292.1 806.5 L1293.2 803.7 L1293.8 802.8 L1295 802.9 L1296.4 801.6 L1296.7 801.8 L1300.2 815.8 L1302.1 836.2 L1302.4 836.2 L1304.4 834.5 L1310.4 796.0 L1312 791.6 L1312.8 791.7 L1313.6 792.1 L1315 790.8 L1315.4 791.1 L1318.3 798.7 L1320.9 839.0 L1323 879.4 L1326.9 919.8 L1328.5 926.1 L1329.2 927.5 L1329.9 927.6 L1330.6 927.3 L1331.5 927.9 L1332.2 927.5 L1335.3 914.9 L1340.5 875.1 L1345 834.8 L1347.9 794.7 L1350.6 754.5 L1352.6 713.8 L1353.7 691.4 L1355.2 685.0 L1356 684.0 L1357.1 683.9 L1358 683.6 L1358.4 683.8 L1360.8 691.0 L1363.4 730.9 L1366.5 761.8 L1370.5 721.3 L1373.9 691.3 L1374.7 689.7 L1375.9 689.9 L1376.9 691.3 L1378.7 697.1 L1380.1 699.3 L1381.6 704.7 L1382.5 705.5 L1382.9 704.9 L1386.4 664.7 L1389.4 624.0 L1392.2 612.6 L1393 611.3 L1395.1 610.5 L1395.6 610.6 L1397.2 614.2 L1398.3 614.6 L1398.9 615.5 L1400 618.7 L1400.5 619.4 L1401.8 619.8 L1402.3 620.7 L1402.6 620.6 L1404.9 580.5 L1410.2 540.4 L1414 520.0 L1414.5 519.3 L1415.7 518.6 L1417.1 516.4 L1417.8 516.5 L1418.6 517.0 L1420.1 516.8 L1421.8 520.0 L1423 520.6 L1423.6 521.3 L1424.8 524.2 L1426.7 523.9 L1427.8 524.2 L1429.7 521.5 L1431 521.4 L1432.8 518.1 L1433.9 517.9 L1435.5 516.5 L1435.9 516.6 L1438.9 521.8 L1442.2 544.8 L1443.5 548.2 L1445 549.4 L1446.7 552.3 L1449.2 552.0 L1449.6 551.7 L1451.4 547.0 L1452.6 545.3 L1454.1 541.5 L1454.4 541.2 L1459 580.6 L1462.3 586.2 L1463.5 586.6 L1464.9 588.5 L1465.6 588.7 L1466.3 588.7 L1467 589.2 L1468.3 590.9 L1469.6 590.6 L1471.3 591.7 L1472.8 589.3 L1474.2 588.5 L1476 584.0 L1477.6 581.1 L1480.6 540.9 L1484.5 517.9 L1485.1 516.5 L1485.8 516.9 L1486.7 518.3 L1488.1 519.0 L1489.8 523.9 L1491.3 526.8 L1496.7 550.6 L1499 555.8 L1499.3 555.9 L1500.7 554.5 L1501.8 554.7 L1502.3 554.3 L1504 550.7 L1505.4 549.1 L1506.9 545.4 L1508.3 543.6 L1515.9 522.4 L1517.9 519.9 L1519.1 517.9 L1520.8 517.7 L1521.9 516.6 L1522.4 516.6 L1524 518.6 L1525.4 519.7 L1526.8 523.7 L1528.3 525.6 L1532.9 544.1 L1534.6 546.4 L1535.9 549.2 L1536.4 549.6 L1537.3 549.2 L1539.1 547.7 L1542.3 539.1 L1543.8 520.8 L1546.5 514.2 L1547 514.2 L1555.5 548.3 L1557.3 549.3 L1557.9 549.1 L1559.5 546.4 L1561 544.6 L1563.6 523.8 L1565.7 518.8 L1566.9 518.6 L1568.5 517.3 L1570.1 519.9 L1571.3 519.9 L1571.8 520.1 L1573.6 523.5 L1574.6 524.3 L1576.5 529.5 L1578.9 569.5 L1586.1 609.2 L1591.9 648.7 L1594.2 689.7 L1597.6 720.7 L1598.1 722.4 L1598.7 722.4 L1600.9 718.4 L1607.1 693.3 L1608.1 692.2 L1608.8 692.4 L1612 700.6 L1615.7 722.4 L1616.5 724.7 L1617.9 725.4 L1619.9 728.8 L1620.9 729.2 L1622.6 731.7 L1623.2 731.8 L1623.9 731.4 L1624.6 731.6 L1626 732.8 L1627.4 732.4 L1628.8 734.5 L1630.4 735.7 L1641.5 769.1 L1643 771.4 L1647.6 783.3 L1649 784.9 L1650.5 789.2 L1652 790.8 L1653.6 794.9 L1655.3 796.5 L1656.6 799.5 L1658.4 801.0 L1659.9 803.7 L1661.1 804.1 L1662.8 806.6 L1664.1 806.8 L1664.7 807.2 L1665.9 809.3 L1667.1 809.2 L1667.8 809.5 L1669 811.5 L1670.8 812.0 L1672 814.0 L1673.8 814.6 L1675 816.3 L1675.6 816.7 L1676.8 816.5 L1678 818.9 L1678.6 819.5 L1679.8 818.9 L1681.6 821.2 L1683 821.2 L1684.4 822.7 L1685.8 822.7 L1687.2 824.0 L1687.9 824.4 L1689.3 824.1 L1690.6 825.1 L1692.2 823.7 L1693.7 824.8 L1695.2 823.3 L1695.9 823.2 L1696.7 823.5 L1698.1 822.8 L1698.8 823.0 L1700.2 824.6 L1701.6 824.2 L1703 825.8 L1704.4 825.8 L1705.8 827.1 L1706.5 827.3 L1707.3 827.1 L1708.1 827.4 L1708.8 828.2 L1709.6 828.6 L1710.4 828.4 L1711.1 828.6 L1711.9 829.7 L1712.7 830.1 L1713.4 829.6 L1714.2 829.4 L1714.9 829.9 L1715.6 830.0 L1716.8 828.5 L1717.3 828.2 L1718.4 828.3 L1720 824.7 L1721.6 824.3 L1723.1 820.8 L1724.7 820.4 L1725.9 818.2 L1726.5 817.6 L1727.7 817.6 L1729.5 815.1 L1730.8 815.6 L1732.2 813.9 L1732.9 813.7 L1733.7 814.0 L1734.4 813.8 L1735.2 813.3 L1736 813.3 L1736.7 813.9 L1737.5 813.5 L1738.3 812.3 L1739.1 812.2 L1739.8 812.7 L1740.6 812.5 L1741.9 811.2 L1743.3 811.5 L1744.6 809.3 L1745.3 809.1 L1746 809.3 L1746.6 808.9 L1747.9 806.7 L1749.1 806.6 L1749.7 806.2 L1751.2 803.6 L1752.5 802.7 L1754.2 798.2 L1755.5 797.8 L1757.1 794.7 L1758.5 795.1 L1760 793.0 L1760.7 792.7 L1761.4 793.1 L1762.1 792.8 L1763.6 790.9 L1764.5 791.2 L1765.4 790.8 L1766.3 789.8 L1768.1 789.8 L1768.3 789.5" stroke="#00ff00" stroke-width="13.7"/>
<path transform="scale(1.06,1)" d="M94.1 1008.6 L95.2 1008.8 L99.8 1008.6 L101.8 1009.2 L103.9 1008.8 L108 1008.9 L109.7 1008.7 L113.5 1009.1 L115.6 1008.7 L119.8 1008.9 L122 1008.6 L124.1 1009.0 L127.9 1008.7 L129.9 1009.0 L133.9 1008.7 L136 1009.1 L138.1 1008.6 L142.2 1008.9 L144.3 1008.4 L146.4 1009.0 L150.4 1008.5 L152.5 1009.0 L156.5 1008.8 L158.5 1009.2 L160.6 1008.6 L164.6 1009.1 L166.6 1008.6 L170.7 1009.0 L172.7 1008.6 L174.7 1009.0 L178.9 1008.6 L181 1009.0 L183 1008.8 L187.2 1009.1 L189.2 1008.5 L193.2 1008.8 L195.1 1008.5 L199.2 1008.9 L201.3 1008.7 L203.4 1009.0 L205.6 1008.7 L207.6 1008.7 L209.6 1009.1 L211.4 1008.8 L214.7 1009.0 L217.1 1008.7 L223.1 1009.0 L226.8 1010.5 L228.7 1010.5 L230.7 1011.1 L232.9 1011.5 L235.2 1011.1 L237.6 1011.6 L239.9 1011.5 L241.9 1012.2 L245.1 1014.5 L246.6 1015.8 L251.8 1022.0 L255.4 1027.5 L259.6 1031.6 L264.3 1035.2 L265.8 1036.8 L268.7 1039.0 L274 1048.5 L277.4 1057.0 L295.2 1094.5 L305.7 1114.1 L311.4 1123.2 L314.8 1128.0 L322.6 1141.2 L328.7 1149.4 L331.5 1152.2 L334.3 1155.5 L339.1 1159.5 L342.7 1161.5 L344.6 1163.0 L348.5 1164.6 L350.3 1165.8 L353.9 1166.7 L357.7 1168.4 L359.6 1168.9 L361.6 1170.0 L365.2 1171.1 L367.2 1172.4 L371 1174.1 L373 1175.4 L374.8 1176.0 L378.4 1176.8 L380.4 1176.7 L382.3 1176.0 L384.1 1175.7 L387.7 1173.9 L391.5 1173.5 L393.4 1173.0 L395.4 1173.3 L397.4 1173.2 L399.3 1172.7 L401.1 1172.6 L402.7 1171.8 L407.3 1167.5 L410.2 1163.6 L412.7 1161.1 L416.6 1156.1 L421.3 1152.9 L424.9 1152.2 L426.9 1151.6 L430.8 1151.1 L432.6 1150.4 L436.5 1150.3 L438.4 1149.7 L440.3 1149.6 L442.1 1149.3 L447.5 1146.1 L452.2 1141.2 L453.3 1139.6 L464.5 1115.6 L475.1 1087.5 L478.8 1075.4 L483.8 1063.8 L488.5 1057.6 L489.9 1056.0 L492.9 1053.5 L497.9 1047.1 L506.4 1031.5 L512.5 1023.3 L517.7 1019.1 L521.8 1017.4 L524.1 1016.7 L526.5 1017.2 L528.6 1016.9 L534.9 1019.4 L540.7 1025.6 L546.6 1034.5 L549.6 1040.5 L553.6 1044.2 L555.5 1045.1 L557.4 1044.9 L559.3 1044.1 L561.2 1042.3 L564 1038.1 L567.5 1029.8 L568.6 1027.8 L574.1 1021.8 L575.6 1021.3 L579.2 1022.2 L581 1023.4 L584.8 1028.1 L585.8 1029.9 L590.4 1045.1 L596.3 1084.9 L601.3 1126.1 L604.2 1150.8 L605.1 1154.5 L606.1 1156.6 L607.2 1157.3 L608 1156.2 L609.4 1151.2 L610.7 1141.2 L613.1 1101.1 L613.6 1096.1 L614.1 1094.1 L614.9 1093.2 L616.9 1093.4 L619.1 1094.0 L620.3 1095.1 L623.6 1100.8 L628.1 1106.4 L629.6 1106.8 L630.5 1105.7 L631.9 1101.4 L639.2 1060.0 L640.8 1053.5 L642.7 1049.4 L644.2 1048.0 L645.7 1047.4 L647.4 1047.6 L649.3 1049.3 L651.1 1051.6 L652.7 1053.2 L654 1055.4 L656 1061.3 L657 1062.5 L658 1061.4 L661.7 1051.7 L664.7 1038.5 L669.9 1026.7 L676.4 1017.4 L681.4 1013.2 L685.3 1011.3 L687.3 1010.0 L693.6 1008.6 L695.8 1008.9 L702.4 1009.1 L704.5 1008.5 L706.7 1008.7 L711 1008.5 L713 1009.0 L714.9 1008.9 L716.9 1009.4 L718.7 1010.3 L724.3 1012.0 L727.9 1011.3 L729.9 1011.2 L733.9 1010.0 L735.8 1009.8 L737.6 1009.1 L739.3 1008.8 L741.5 1009.2 L743.5 1008.8 L747.5 1009.1 L751.1 1009.0 L753.1 1009.2 L755.1 1008.8 L759.3 1009.2 L761.4 1008.8 L763.3 1009.1 L767.2 1008.7 L769.2 1009.1 L773.3 1008.9 L775.4 1009.2 L777.4 1008.8 L781.6 1009.1 L783.6 1008.7 L787.6 1009.1 L789.6 1008.8 L791.7 1009.1 L795.7 1008.7 L797.7 1009.1 L801.7 1008.9 L803.8 1009.2 L805.8 1008.8 L809.8 1009.3 L811.8 1008.8 L815.8 1009.2 L817.9 1008.6 L819.9 1009.0 L823.9 1008.8 L825.9 1009.1 L830 1008.8 L832 1009.3 L834 1008.8 L836 1008.9 L838 1009.3 L840 1008.8 L844.1 1009.2 L846.1 1008.7 L850.1 1009.0 L852.1 1008.7 L854.2 1009.0 L858.3 1008.9 L860.4 1009.3 L862.5 1009.0 L866.5 1009.1 L868.5 1008.9 L872.3 1009.2 L874.4 1008.8 L876.5 1009.0 L880.7 1008.7 L882.6 1009.1 L886.2 1008.7 L887.9 1009.1 L892.4 1008.6 L894.5 1009.3 L896.5 1009.8 L898.4 1011.3 L900.8 1015.0 L902.3 1020.5 L906.4 1042.4 L907.5 1045.0 L908.9 1046.4 L910.4 1047.2 L911.1 1046.5 L912.4 1042.2 L915.2 1030.3 L916 1029.4 L916.9 1030.5 L919.2 1034.6 L920.6 1035.9 L922.4 1036.0 L926.5 1033.0 L928.1 1031.4 L929 1029.7 L931 1020.8 L931.9 1019.1 L936.1 1013.9 L937.7 1012.5 L941.1 1010.3 L943 1009.6 L944.9 1009.6 L946.8 1009.0 L948.9 1008.7 L951 1009.1 L953.4 1008.8 L957.2 1009.1 L959.2 1008.8 L961.4 1009.0 L965.9 1008.9 L968.3 1009.3 L970.1 1008.9 L973.8 1009.3 L975.8 1008.9 L979.7 1009.2 L981.7 1008.7 L985.8 1009.1 L987.7 1008.7 L989.7 1009.1 L993.6 1008.7 L995.6 1009.2 L999.4 1008.8 L1001.4 1009.1 L1005.3 1008.8 L1007.2 1009.3 L1011.1 1008.8 L1013.1 1009.2 L1015 1008.9 L1017 1008.8 L1018.9 1009.2 L1020.9 1008.9 L1024.8 1009.1 L1026.7 1008.8 L1030.6 1009.1 L1032.6 1008.8 L1036.5 1009.1 L1038.5 1008.6 L1040.5 1009.0 L1042.6 1009.0 L1044.5 1008.7 L1046.5 1009.1 L1050.4 1008.7 L1052.2 1009.1 L1056.3 1008.9 L1058.6 1009.2 L1060.9 1008.9 L1065.1 1009.1 L1067.1 1008.8 L1068.9 1009.0 L1073.4 1008.9 L1075.5 1009.2 L1077.6 1008.8 L1082.1 1009.0 L1083.9 1008.6 L1085.9 1009.1 L1090.1 1008.9 L1092.3 1009.3 L1094.2 1009.0 L1096.3 1009.0 L1098.5 1009.4 L1100.7 1008.9 L1102.9 1009.3 L1107.2 1009.0 L1109.1 1009.5 L1111.4 1009.2 L1115.5 1009.5 L1117.5 1009.0 L1121.7 1009.4 L1123.8 1009.1 L1126 1009.5 L1128.2 1009.5 L1132.5 1010.7 L1134.4 1010.6 L1138.1 1011.8 L1140 1011.8 L1143.8 1012.7 L1145.8 1012.6 L1151.6 1013.9 L1154.8 1015.9 L1156.6 1016.3 L1158.4 1017.1 L1160.3 1018.5 L1163.9 1020.2 L1165.7 1021.6 L1169 1023.4 L1172.2 1026.2 L1175.3 1028.5 L1179.6 1032.4 L1185.8 1040.9 L1190.8 1052.9 L1197.4 1092.9 L1200.2 1107.5 L1201.9 1111.8 L1203.2 1114.4 L1204.5 1115.8 L1205.7 1115.4 L1206.9 1113.5 L1209.7 1107.3 L1214.4 1082.2 L1215 1080.5 L1215.7 1079.2 L1217.5 1077.2 L1219.5 1076.0 L1220.6 1076.8 L1224.1 1082.6 L1225.6 1086.4 L1231 1126.0 L1232.1 1135.9 L1233.6 1142.2 L1242.6 1166.6 L1246.1 1180.9 L1251.9 1222.5 L1255.8 1246.4 L1256.9 1249.8 L1258 1251.9 L1259.3 1253.5 L1260.6 1254.4 L1261.8 1253.9 L1263.1 1252.0 L1265.3 1247.3 L1265.9 1245.2 L1271.2 1204.5 L1275.1 1163.4 L1278 1123.5 L1278.4 1118.9 L1284.7 1101.4 L1289.8 1078.7 L1290.5 1077.4 L1292.3 1074.9 L1294.3 1074.1 L1295.4 1075.3 L1297.2 1080.2 L1298.6 1086.5 L1301.5 1126.5 L1306.4 1168.3 L1308.8 1186.5 L1310.9 1193.9 L1311.9 1196.3 L1313 1197.4 L1313.9 1196.7 L1317.1 1189.8 L1318.7 1185.4 L1324.2 1145.5 L1325.1 1141.1 L1325.7 1139.1 L1326.9 1136.8 L1328.4 1135.3 L1330 1134.1 L1331.5 1132.2 L1333.4 1128.1 L1335.3 1119.4 L1336.4 1108.4 L1337.2 1067.1 L1338.7 1033.9 L1340 1025.9 L1340.5 1024.6 L1341.8 1022.1 L1343.3 1020.7 L1344.5 1021.9 L1345.8 1024.8 L1346.8 1027.8 L1347.2 1030.2 L1349.5 1070.4 L1351.2 1111.6 L1351.7 1121.3 L1353.2 1129.6 L1354.5 1133.8 L1355.2 1134.5 L1356.1 1133.5 L1358 1128.4 L1359.1 1123.4 L1362.7 1081.5 L1365.2 1049.6 L1365.2 1044.8 L1365.7 1042.5 L1367.1 1040.8 L1369 1039.9 L1370.6 1038.1 L1371.6 1034.5 L1372.9 1023.4 L1376.3 1014.4 L1377.4 1012.5 L1378.3 1011.7 L1379.1 1012.5 L1380.7 1016.5 L1382.5 1023.1 L1385.1 1063.9 L1386.9 1103.2 L1387.4 1106.5 L1388.2 1109.4 L1389.2 1111.7 L1390.2 1112.8 L1391.2 1112.4 L1392.4 1111.0 L1394.4 1106.2 L1396.6 1094.7 L1397.3 1093.0 L1400.2 1090.1 L1401.5 1088.4 L1402.4 1085.0 L1404.1 1044.3 L1404.9 1033.0 L1405.8 1028.9 L1406.4 1027.4 L1407.7 1026.2 L1409.2 1026.1 L1410 1026.9 L1414.1 1038.0 L1416.7 1042.5 L1419.6 1046.3 L1421.1 1047.1 L1422.6 1046.0 L1427.4 1040.3 L1428.8 1039.2 L1430.2 1040.1 L1432.7 1044.5 L1434.2 1048.4 L1438.4 1089.6 L1442.7 1129.5 L1445 1138.1 L1446.8 1141.9 L1447.7 1142.8 L1449 1142.4 L1450.3 1140.7 L1452.7 1136.0 L1453.8 1131.2 L1456.4 1089.3 L1457.9 1078.8 L1459 1075.2 L1462 1068.4 L1463.2 1066.1 L1466 1063.5 L1469.3 1059.8 L1470.9 1059.1 L1472.3 1059.0 L1473.7 1059.5 L1475 1061.3 L1477.8 1068.3 L1479.4 1079.3 L1480 1080.7 L1481.9 1083.3 L1484.2 1084.9 L1491.2 1086.8 L1492.2 1088.3 L1493.4 1092.6 L1495.8 1104.5 L1496.8 1106.1 L1499.6 1106.4 L1502.4 1106.1 L1503.2 1107.5 L1504 1114.9 L1504.5 1116.8 L1506.1 1118.9 L1508.1 1119.6 L1510.9 1119.4 L1513.7 1118.8 L1514.5 1119.9 L1518 1137.3 L1518.5 1139.1 L1519.3 1140.4 L1521.3 1142.3 L1523.5 1142.8 L1524.7 1141.8 L1526.8 1138.4 L1528.1 1134.8 L1531.2 1093.4 L1535.4 1061.7 L1542 1039.3 L1543.8 1035.2 L1545.9 1032.2 L1547.7 1030.7 L1551.7 1029.8 L1554.4 1028.4 L1556.9 1028.4 L1558.2 1029.3 L1559.4 1031.0 L1561.4 1036.3 L1562.4 1042.2 L1563.6 1055.1 L1565.1 1063.0 L1565.8 1065.1 L1566.6 1066.2 L1568.1 1065.9 L1569.7 1063.7 L1571.6 1059.9 L1573.3 1039.5 L1575.2 1028.8 L1576.3 1024.9 L1578.3 1021.6 L1581.2 1018.0 L1582.8 1016.5 L1586.5 1014.7 L1588.5 1014.1 L1590.7 1014.2 L1592.9 1013.5 L1595 1013.2 L1597 1012.6 L1599 1011.1 L1601.1 1010.7 L1605.1 1009.0 L1608.8 1009.8 L1610.6 1010.7 L1614 1014.0 L1615.7 1014.9 L1617.5 1015.5 L1619.2 1015.3 L1624.7 1011.6 L1626.4 1010.1 L1628 1009.4 L1629.4 1009.6 L1630.8 1010.5 L1631.9 1011.8 L1632.9 1013.5 L1639.1 1031.1 L1639.9 1032.9 L1641.7 1035.4 L1643.7 1036.0 L1645 1035.1 L1646.4 1033.4 L1648.9 1028.2 L1651.7 1017.4 L1652.5 1015.6 L1653.4 1014.0 L1655 1012.2 L1656.8 1011.3 L1658.8 1010.9 L1660.9 1009.8 L1664.7 1009.3 L1666.8 1008.7 L1672.8 1009.0 L1678.7 1011.1 L1681.8 1014.1 L1682.6 1015.6 L1683.5 1019.5 L1684.4 1029.1 L1687.2 1041.2 L1688.6 1044.3 L1689.3 1044.7 L1690.4 1043.9 L1691.7 1041.8 L1693.8 1036.1 L1694.4 1031.7 L1694.8 1025.0 L1695.3 1023.2 L1696.6 1020.9 L1698.3 1019.7 L1700.5 1019.9 L1702.8 1021.9 L1704.8 1024.9 L1706.5 1028.9 L1708 1035.0 L1710.8 1065.6 L1711.5 1069.8 L1712 1071.1 L1712.5 1071.6 L1713.4 1070.9 L1714.4 1068.8 L1716.2 1063.1 L1716.7 1058.8 L1716.9 1049.0 L1717.2 1047.1 L1717.7 1045.5 L1719.7 1043.5 L1722.2 1042.5 L1723.9 1042.4 L1729.7 1045.5 L1737.2 1053.6 L1738.9 1054.7 L1740.7 1055.5 L1742.6 1056.8 L1746.5 1058.0 L1748.4 1058.9 L1754.6 1060.2 L1758.7 1059.4 L1760.8 1058.7 L1762.9 1057.5 L1769 1055.4 L1771 1055.6 L1775.1 1055.1 L1777.1 1055.5 L1779 1055.2 L1781.4 1055.2 L1783.7 1055.5 L1785.9 1055.3 L1788 1055.4 L1790 1054.2 L1791.8 1052.3 L1793.6 1051.2 L1795.5 1050.5 L1797.2 1050.5 L1800.8 1052.6 L1804.5 1053.6 L1806.2 1053.3 L1811.5 1049.7 L1813.2 1048.2 L1814.9 1047.1 L1820.5 1044.7 L1822.3 1044.1 L1825.9 1042.0 L1827.8 1041.4 L1831.9 1038.8 L1834.2 1037.8 L1835.3 1037.0" stroke="#ff0000" stroke-width="13.2"/>
</g></g>
<g filter="url(#soft2)">
<text x="23.0" y="1370.6" class="tk" textLength="162.6" lengthAdjust="spacingAndGlyphs">4000</text>
<text x="287.6" y="1370.6" class="tk" textLength="162.6" lengthAdjust="spacingAndGlyphs">3500</text>
<text x="549.1" y="1370.6" class="tk" textLength="162.6" lengthAdjust="spacingAndGlyphs">3000</text>
<text x="810.7" y="1370.6" class="tk" textLength="162.6" lengthAdjust="spacingAndGlyphs">2500</text>
<text x="1072.3" y="1370.6" class="tk" textLength="162.6" lengthAdjust="spacingAndGlyphs">2000</text>
<text x="1333.9" y="1370.6" class="tk" textLength="162.6" lengthAdjust="spacingAndGlyphs">1500</text>
<text x="1595.4" y="1370.6" class="tk" textLength="162.6" lengthAdjust="spacingAndGlyphs">1000</text>
<text x="1876.5" y="1370.6" class="tk" textLength="123.5" lengthAdjust="spacingAndGlyphs">500</text>
<text x="148" y="68.4" class="lb" textLength="55.5" lengthAdjust="spacingAndGlyphs">V</text>
<text x="119.5" y="504.8" class="lb" textLength="77" lengthAdjust="spacingAndGlyphs">IV</text>
<text x="119.5" y="988.4" class="lb" textLength="150" lengthAdjust="spacingAndGlyphs">III A</text>
<text x="643.5" y="1482.6" class="ax" textLength="684" lengthAdjust="spacingAndGlyphs">Wavenumber (cm)</text>
<text x="1326.3" y="1450.5" class="ax" textLength="61" lengthAdjust="spacingAndGlyphs">-1</text>
</g>
</svg>
</body>
</html>
